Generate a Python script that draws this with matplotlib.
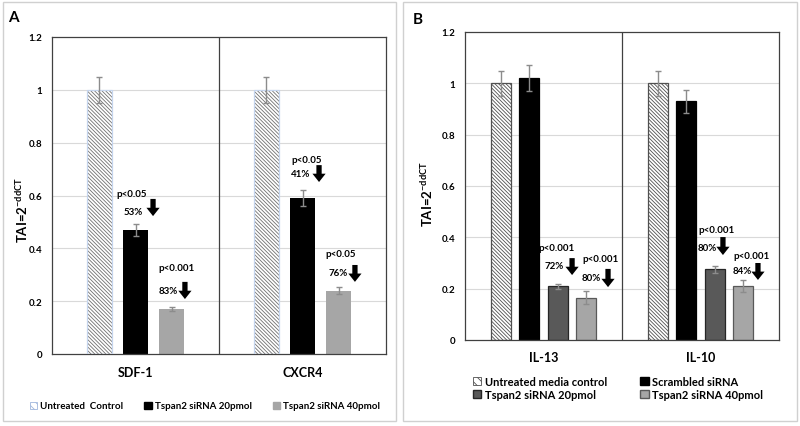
import matplotlib
matplotlib.use("Agg")
import matplotlib.pyplot as plt
import numpy as np
from matplotlib.patches import Rectangle, Patch

plt.rcParams['font.family'] = ['Lato', 'DejaVu Sans']
plt.rcParams['font.weight'] = 'bold'
plt.rcParams['hatch.linewidth'] = 0.6
plt.rcParams['mathtext.fontset'] = 'custom'
plt.rcParams['mathtext.rm'] = 'Lato:bold'
plt.rcParams['mathtext.bf'] = 'Lato:bold'
plt.rcParams['mathtext.default'] = 'bf'

# ---------------- data: panel A ----------------
cats_A = ['SDF-1', 'CXCR4']
series_A = ['Untreated  Control', 'Tspan2 siRNA 20pmol', 'Tspan2 siRNA 40pmol']
untreated_A = [1.0, 1.0]
si20_A = [0.47, 0.59]
si40_A = [0.17, 0.24]
untreated_A_err = [0.05, 0.05]
si20_A_err = [0.022, 0.03]
si40_A_err = [0.008, 0.012]
p_A = ['p<0.05', 'p<0.05', 'p<0.001', 'p<0.05']       # SDF-1 20, CXCR4 20, SDF-1 40, CXCR4 40
pct_A = ['53%', '41%', '83%', '76%']

# ---------------- data: panel B ----------------
cats_B = ['IL-13', 'IL-10']
series_B = ['Untreated media control', 'Scrambled siRNA', 'Tspan2 siRNA 20pmol', 'Tspan2 siRNA 40pmol']
untreated_B = [1.0, 1.0]
scrambled_B = [1.02, 0.93]
si20_B = [0.21, 0.275]
si40_B = [0.165, 0.21]
untreated_B_err = [0.05, 0.05]
scrambled_B_err = [0.05, 0.045]
si20_B_err = [0.01, 0.015]
si40_B_err = [0.025, 0.022]
p_B = ['p<0.001', 'p<0.001', 'p<0.001', 'p<0.001']   # IL-13 20, IL-10 20, IL-13 40, IL-10 40
pct_B = ['72%', '80%', '80%', '84%']

yticks = [0, 0.2, 0.4, 0.6, 0.8, 1.0, 1.2]
ytick_labels = ['0', '0.2', '0.4', '0.6', '0.8', '1', '1.2']
ylabel = r'TAI=2$^{-ddCT}$'

# ---------------- layout ----------------
W, H = 800, 427
fig = plt.figure(figsize=(8, 4.27), dpi=100)


def px_axes(l, t, r, b):
    return fig.add_axes([l / W, 1 - b / H, (r - l) / W, (b - t) / H])


# panel borders
for (l, t, r, b) in [(3, 3, 396, 422), (403, 3, 797, 422)]:
    fig.add_artist(Rectangle((l / W, 1 - b / H), (r - l) / W, (b - t) / H,
                             transform=fig.transFigure, fill=False,
                             edgecolor='#d0d0d0', lw=1.0))

grid_c = '#d9d9d9'
frame_c = '#404040'
err_c = '#8c8c8c'
gray_light = '#a6a6a6'
gray_dark = '#595959'
HATCH = '\\' * 9


def style_axes(ax, ncat):
    ax.set_xlim(-0.5, ncat - 0.5)
    ax.set_ylim(0, 1.2)
    ax.set_yticks(yticks)
    ax.set_yticklabels(ytick_labels, fontsize=7, fontweight='bold')
    ax.tick_params(axis='y', length=0, pad=7)
    ax.tick_params(axis='x', length=0)
    ax.set_xticks([])
    for s in ax.spines.values():
        s.set_color(frame_c)
        s.set_linewidth(0.9)
    for y in yticks[1:-1]:
        ax.axhline(y, color=grid_c, lw=0.8, zorder=0)
    ax.axvline(0.5, color=frame_c, lw=0.9, zorder=1)


def arrow(ax, x, y0, y1):
    ax.annotate('', xy=(x, y1), xytext=(x, y0),
                arrowprops=dict(arrowstyle='simple,head_width=0.95,head_length=0.6,tail_width=0.38',
                                color='black', lw=0, shrinkA=0, shrinkB=0,
                                mutation_scale=10))


ekw = dict(ecolor=err_c, elinewidth=1.0, capsize=2.2, capthick=1.0)

# ---------------- Panel A ----------------
axA = px_axes(52, 38, 386, 355)
style_axes(axA, 2)
xA = np.arange(len(cats_A))
bwA, dA = 0.15, 0.216
axA.bar(xA - dA, untreated_A, bwA, color='white', hatch=HATCH, edgecolor='#707070', lw=0, zorder=2)
axA.bar(xA - dA, untreated_A, bwA, fill=False, edgecolor='#c5d5ee', lw=0.9, zorder=3)
axA.errorbar(xA - dA, untreated_A, yerr=untreated_A_err, fmt='none', zorder=4, **ekw)
axA.bar(xA, si20_A, bwA, color='black', zorder=2)
axA.errorbar(xA, si20_A, yerr=si20_A_err, fmt='none', zorder=4, **ekw)
axA.bar(xA + dA, si40_A, bwA, color=gray_light, zorder=2)
axA.errorbar(xA + dA, si40_A, yerr=si40_A_err, fmt='none', zorder=4, **ekw)

# annotation layout (data coords): p-text (x,y), pct-text (x,y), arrow x, arrow top, arrow bottom
annA = [(-0.021, 0.609, -0.015, 0.541, 0.105, 0.587, 0.522),
        (1.027, 0.738, 0.991, 0.685, 1.099, 0.715, 0.651),
        (0.243, 0.329, 0.195, 0.242, 0.296, 0.273, 0.208),
        (1.231, 0.382, 1.213, 0.310, 1.314, 0.337, 0.273)]
for (px_, py_, qx, qy, ax_, a0, a1), pt, pc in zip(annA, p_A, pct_A):
    axA.text(px_, py_, pt, ha='center', va='center', fontsize=7, fontweight='bold')
    axA.text(qx, qy, pc, ha='center', va='center', fontsize=7, fontweight='bold')
    arrow(axA, ax_, a0, a1)

for i, c in enumerate(cats_A):
    axA.text(i, -0.068, c, ha='center', va='center', fontsize=9, fontweight='bold')
fig.text(22 / W, 1 - 210 / H, ylabel, rotation=90, ha='center', va='center',
         fontsize=9.5, fontweight='bold')
fig.text(13 / W, 1 - 18 / H, 'A', ha='center', va='center', fontsize=11, fontweight='bold')

hA = [Patch(facecolor='white', hatch='\\\\\\\\', edgecolor='#9fb6dc', lw=0.6),
      Patch(facecolor='black', edgecolor='black'),
      Patch(facecolor=gray_light, edgecolor=gray_light)]
fig.legend(hA, series_A, loc='center', bbox_to_anchor=(205 / W, 1 - 407 / H), ncol=3,
           frameon=False, handlelength=0.75, handleheight=0.75,
           handletextpad=0.3, columnspacing=2.2, prop={'weight': 'bold', 'size': 7})

# ---------------- Panel B ----------------
axB = px_axes(465, 33, 779, 341)
style_axes(axB, 2)
xB = np.arange(len(cats_B))
bwB, dB = 0.127, 0.1815
axB.bar(xB - 1.5 * dB, untreated_B, bwB, color='white', hatch=HATCH, edgecolor='#505050', lw=0.9, zorder=2)
axB.errorbar(xB - 1.5 * dB, untreated_B, yerr=untreated_B_err, fmt='none', zorder=4, **ekw)
axB.bar(xB - 0.5 * dB, scrambled_B, bwB, color='black', edgecolor='black', lw=0.9, zorder=2)
axB.errorbar(xB - 0.5 * dB, scrambled_B, yerr=scrambled_B_err, fmt='none', zorder=4, **ekw)
axB.bar(xB + 0.5 * dB, si20_B, bwB, color=gray_dark, edgecolor='#262626', lw=0.9, zorder=2)
axB.errorbar(xB + 0.5 * dB, si20_B, yerr=si20_B_err, fmt='none', zorder=4, **ekw)
axB.bar(xB + 1.5 * dB, si40_B, bwB, color=gray_light, edgecolor='#595959', lw=0.9, zorder=2)
axB.errorbar(xB + 1.5 * dB, si40_B, yerr=si40_B_err, fmt='none', zorder=4, **ekw)

annB = [(0.083, 0.362, 0.070, 0.292, 0.182, 0.319, 0.253),
        (1.099, 0.429, 1.045, 0.362, 1.143, 0.401, 0.331),
        (0.366, 0.316, 0.306, 0.242, 0.411, 0.277, 0.206),
        (1.322, 0.331, 1.264, 0.269, 1.366, 0.300, 0.234)]
for (px_, py_, qx, qy, ax_, a0, a1), pt, pc in zip(annB, p_B, pct_B):
    axB.text(px_, py_, pt, ha='center', va='center', fontsize=7, fontweight='bold')
    axB.text(qx, qy, pc, ha='center', va='center', fontsize=7, fontweight='bold')
    arrow(axB, ax_, a0, a1)

for i, c in enumerate(cats_B):
    axB.text(i, -0.066, c, ha='center', va='center', fontsize=9, fontweight='bold')
fig.text(427 / W, 1 - 194 / H, ylabel, rotation=90, ha='center', va='center',
         fontsize=9.5, fontweight='bold')
fig.text(418 / W, 1 - 20 / H, 'B', ha='center', va='center', fontsize=11, fontweight='bold')

hB = [Patch(facecolor='white', hatch='\\\\\\\\', edgecolor='#505050', lw=0.6),
      Patch(facecolor=gray_dark, edgecolor='#262626'),
      Patch(facecolor='black', edgecolor='black'),
      Patch(facecolor=gray_light, edgecolor='#595959')]
labB = [series_B[0], series_B[2], series_B[1], series_B[3]]
fig.legend(hB, labB, loc='center', bbox_to_anchor=(618 / W, 1 - 389 / H), ncol=2,
           frameon=False, handlelength=0.75, handleheight=0.75, handletextpad=0.3,
           columnspacing=3.0, labelspacing=0.15, prop={'weight': 'bold', 'size': 8})

fig.savefig('out.png', dpi=100)
